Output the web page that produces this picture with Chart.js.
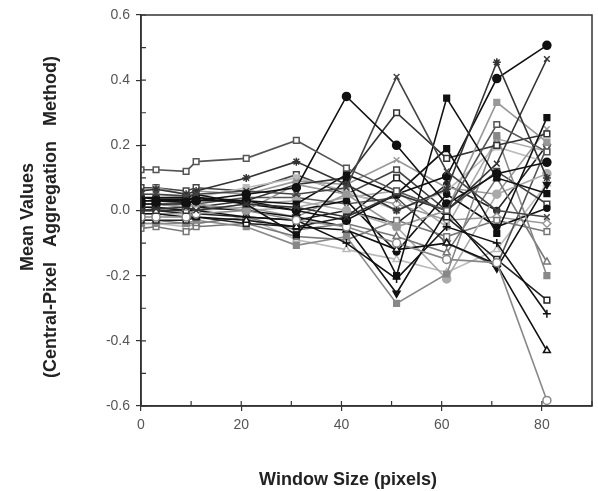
<!DOCTYPE html>
<html><head><meta charset="utf-8">
<script src="https://cdn.jsdelivr.net/npm/chart.js@4"></script>
<style>html,body{margin:0;padding:0;background:#fff}#wrap{width:598px;height:491px}</style>
</head><body><div id="wrap"><canvas id="c" width="598" height="491"></canvas></div>
<script>
// ---- data ----
const windowSizes = [0, 3, 9, 11, 21, 31, 41, 51, 61, 71, 81];
const xTickValues = [0, 20, 40, 60, 80];
const yTickValues = [-0.6, -0.4, -0.2, 0.0, 0.2, 0.4, 0.6];
const xTitle = 'Window Size (pixels)';
const yTitleLines = ['Mean Values', '(Central-Pixel   Aggregation   Method)'];

const s01 = [0.125, 0.125, 0.12, 0.15, 0.16, 0.215, 0.13, 0.06, 0.0, 0.264, 0.18];
const s02 = [0.03, 0.03, 0.025, 0.03, 0.05, 0.07, 0.35, 0.2, 0.02, 0.113, 0.148];
const s03 = [0.05, 0.05, 0.045, 0.05, 0.06, 0.05, 0.07, 0.41, 0.12, 0.0, -0.02];
const s04 = [0.0, 0.005, 0.01, 0.0, 0.02, 0.01, -0.02, 0.05, 0.0, 0.144, 0.465];
const s05 = [0.06, 0.065, 0.05, 0.06, 0.1, 0.15, 0.08, 0.0, 0.065, 0.455, 0.1];
const s06 = [0.02, 0.02, 0.02, 0.03, 0.03, 0.0, -0.03, 0.05, 0.105, 0.405, 0.507];
const s07 = [0.03, 0.03, 0.03, 0.04, 0.02, -0.075, 0.1, -0.2, 0.345, 0.1, 0.052];
const s08 = [0.04, 0.035, 0.035, 0.04, 0.03, 0.02, 0.11, 0.05, 0.19, -0.07, 0.285];
const s09 = [0.02, 0.02, 0.01, 0.02, 0.0, 0.08, 0.05, -0.05, 0.0, 0.332, 0.21];
const s10 = [0.0, 0.0, 0.0, 0.01, 0.03, 0.08, 0.1, 0.3, 0.16, 0.2, 0.235];
const s11 = [-0.02, -0.02, -0.02, -0.01, 0.0, -0.03, -0.05, -0.1, -0.15, -0.16, -0.583];
const s12 = [-0.01, -0.01, -0.02, -0.02, -0.03, -0.05, -0.06, -0.12, -0.1, -0.165, -0.43];
const s13 = [0.01, 0.01, 0.0, 0.0, -0.02, -0.03, -0.1, -0.21, -0.05, -0.1, -0.317];
const s14 = [-0.03, -0.03, -0.03, -0.02, -0.04, -0.05, -0.02, 0.1, -0.02, -0.15, -0.275];
const s15 = [-0.04, -0.04, -0.04, -0.03, -0.05, -0.107, -0.08, -0.285, -0.195, 0.23, -0.2];
const s16 = [-0.03, -0.03, -0.04, -0.04, -0.02, -0.06, -0.04, -0.08, -0.13, 0.1, -0.158];
const s17 = [0.0, 0.0, 0.0, 0.01, 0.0, -0.02, -0.05, -0.254, 0.0, -0.177, 0.08];
const s18 = [0.01, 0.01, 0.0, 0.0, 0.02, 0.03, 0.0, -0.05, -0.21, 0.05, 0.113];
const s19 = [-0.055, -0.05, -0.065, -0.05, -0.04, -0.08, -0.09, -0.03, -0.08, -0.03, -0.065];
const s20 = [0.04, 0.04, 0.04, 0.05, 0.02, 0.0, 0.03, -0.127, 0.05, -0.05, 0.007];
const s21 = [0.02, 0.02, 0.01, 0.02, 0.04, 0.04, 0.02, 0.04, -0.1, -0.17, 0.195];
const s22 = [0.06, 0.07, 0.05, 0.06, 0.05, 0.09, 0.08, 0.155, 0.07, 0.05, 0.25];
const s23 = [0.05, 0.05, 0.04, 0.04, 0.07, 0.1, 0.06, 0.0, 0.06, 0.195, 0.148];
const s24 = [-0.01, -0.01, -0.01, 0.0, 0.01, -0.02, 0.05, 0.02, -0.03, -0.02, -0.04];
const s25 = [0.07, 0.07, 0.06, 0.07, 0.06, 0.11, 0.05, 0.125, 0.0, 0.12, 0.02];
const s26 = [0.03, 0.03, 0.02, 0.02, 0.0, 0.01, 0.04, 0.06, -0.05, 0.22, 0.182];
const s27 = [0.0, 0.0, -0.01, -0.01, -0.02, -0.03, 0.0, -0.04, 0.08, 0.0, 0.2];
const s28 = [-0.04, -0.04, -0.05, -0.04, -0.02, -0.09, -0.12, -0.15, -0.19, -0.12, 0.082];

const seriesValues = [s01,s02,s03,s04,s05,s06,s07,s08,s09,s10,s11,s12,s13,s14,s15,s16,s17,s18,s19,s20,s21,s22,s23,s24,s25,s26,s27,s28];

// ---- styles (separate from data) ----
const seriesStyles = [
  ['#555','rect',false,0],   ['#111','circle',true,0],  ['#444','crossRot',false,0], ['#333','crossRot',false,0],
  ['#333','star',false,0],   ['#111','circle',true,0],  ['#111','rect',true,0],      ['#111','rect',true,0],
  ['#999','rect',true,0],    ['#333','rect',false,0],   ['#888','circle',false,0],   ['#111','triangle',false,0],
  ['#111','cross',false,0],  ['#222','rect',false,0],   ['#888','rect',true,0],      ['#777','triangle',false,0],
  ['#111','triangle',true,180], ['#aaa','circle',true,0], ['#777','rect',false,0],   ['#111','circle',true,0],
  ['#555','triangle',false,180], ['#999','crossRot',false,0], ['#bbb','rect',true,0], ['#999','rectRot',false,0],
  ['#444','rect',false,0],   ['#aaa','rect',true,0],    ['#222','circle',true,0],    ['#bbb','triangle',false,0]
];

const datasets = seriesValues.map((vals, i) => {
  const [col, ps, filled, rot] = seriesStyles[i];
  return {
    label: 'S' + (i + 1),
    data: windowSizes.map((x, j) => ({x: x, y: vals[j]})),
    borderColor: col,
    backgroundColor: filled ? col : '#fff',
    pointBorderColor: col,
    pointBackgroundColor: filled ? col : '#fff',
    pointStyle: ps,
    rotation: rot,
    pointRadius: (ps === 'circle' && filled && (i === 19 || i === 26)) ? 3 : 4,
    pointBorderWidth: 1.5,
    borderWidth: 1.6,
    tension: 0,
    fill: false
  };
});

const FONT = "'Liberation Sans', Arial, Helvetica, sans-serif";

const framePlugin = {
  id: 'frame',
  afterDraw(chart) {
    const {ctx, chartArea: a, scales: {x, y}} = chart;
    ctx.save();
    ctx.strokeStyle = '#333';
    ctx.lineWidth = 1.5;
    ctx.strokeRect(a.left, a.top, a.right - a.left, a.bottom - a.top);
    ctx.lineWidth = 1.2;
    ctx.beginPath();
    for (let v = -6; v <= 6; v++) {
      const py = y.getPixelForValue(v / 10);
      ctx.moveTo(a.left, py); ctx.lineTo(a.left + 5, py);
    }
    for (let v = 0; v <= 90; v += 10) {
      const px = x.getPixelForValue(v);
      ctx.moveTo(px, a.bottom); ctx.lineTo(px, a.bottom - 5);
    }
    ctx.stroke();
    ctx.fillStyle = '#222';
    ctx.font = 'bold 18px ' + FONT;
    ctx.textAlign = 'center';
    ctx.textBaseline = 'alphabetic';
    ctx.fillText(xTitle, 348, 485);
    ctx.save();
    ctx.translate(33, 217);
    ctx.rotate(-Math.PI / 2);
    yTitleLines.forEach((t, k) => ctx.fillText(t, 0, k * 23));
    ctx.restore();
    ctx.restore();
  }
};

new Chart(document.getElementById('c'), {
  type: 'line',
  data: {datasets},
  plugins: [framePlugin],
  options: {
    responsive: false,
    animation: false,
    layout: {padding: {left: 0, right: 6, top: 15, bottom: 0}},
    plugins: {legend: {display: false}, tooltip: {enabled: false}},
    scales: {
      x: {
        type: 'linear', min: 0, max: 90,
        afterFit(s) { s.height = 85; },
        afterBuildTicks(s) { s.ticks = xTickValues.map(v => ({value: v})); },
        grid: {display: true, drawOnChartArea: false, drawTicks: true, tickLength: 5, color: '#333', lineWidth: 1.2},
        border: {display: true, color: '#333', width: 1.5},
        ticks: {color: '#555', font: {family: FONT, size: 14}, padding: 6, maxRotation: 0, callback: v => String(v)}
      },
      y: {
        type: 'linear', min: -0.6, max: 0.6,
        afterFit(s) { s.width = 141; },
        afterBuildTicks(s) { s.ticks = yTickValues.map(v => ({value: v})); },
        grid: {display: true, drawOnChartArea: false, drawTicks: true, tickLength: 5, color: '#333', lineWidth: 1.2},
        border: {display: true, color: '#333', width: 1.5},
        ticks: {color: '#555', font: {family: FONT, size: 14}, padding: 6, callback: v => Number(v).toFixed(1)}
      }
    }
  }
});
</script>
</body></html>
